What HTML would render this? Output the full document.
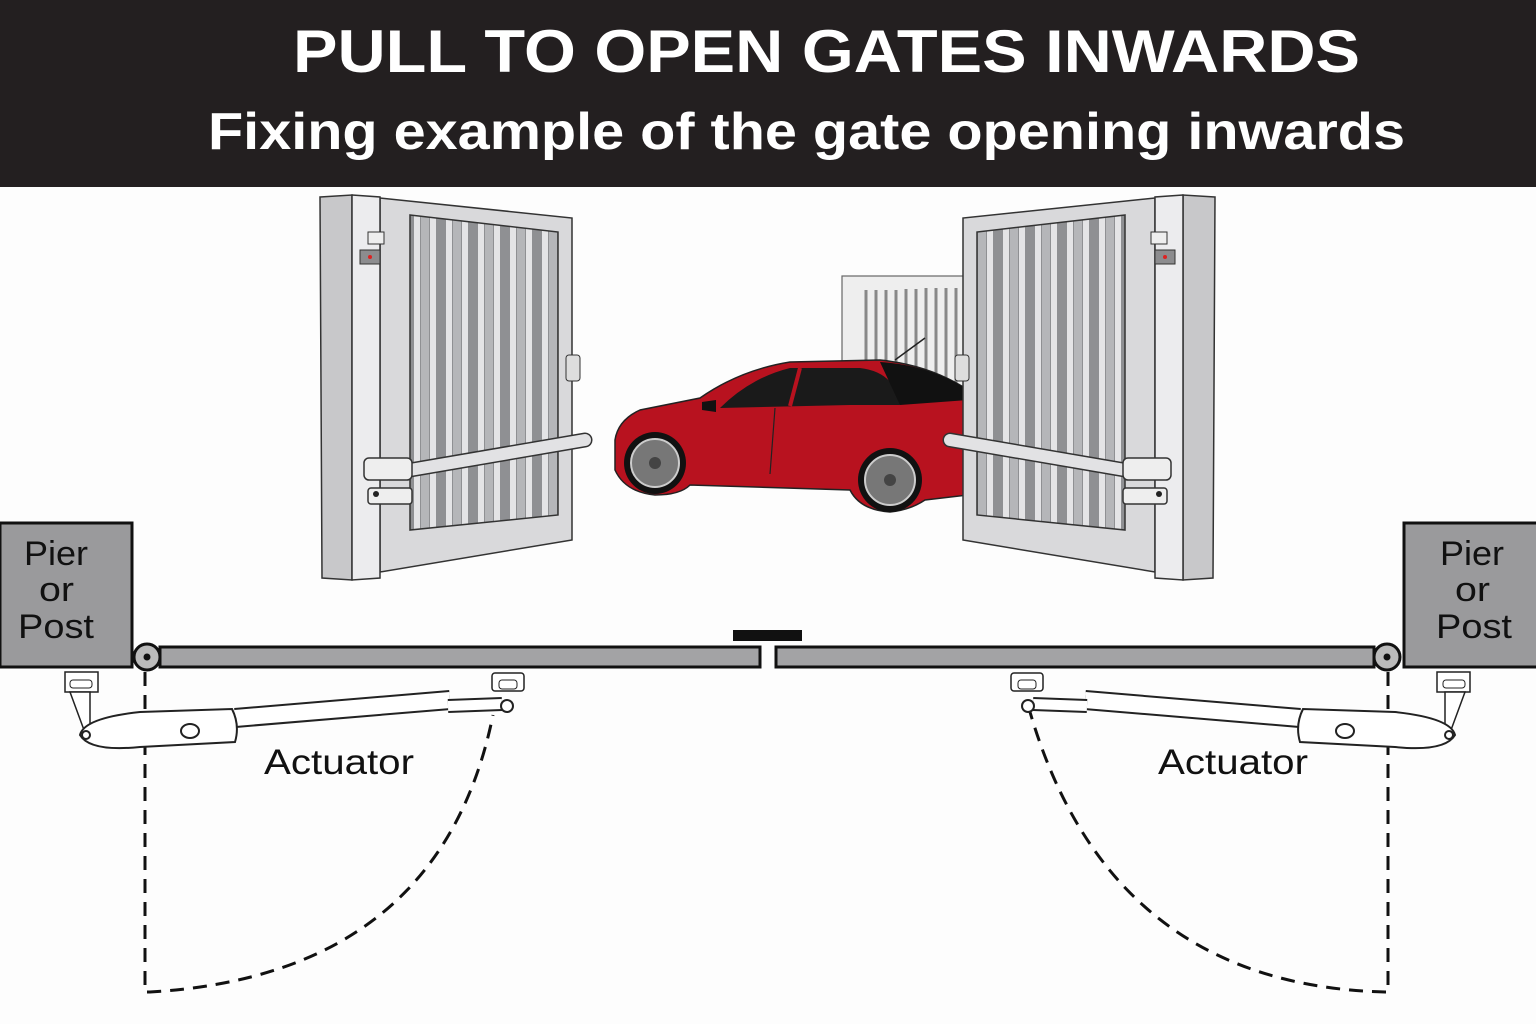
<!DOCTYPE html>
<html><head><meta charset="utf-8"><style>
html,body{margin:0;padding:0;background:#fff;}
svg{display:block;}
</style></head><body>
<svg width="1536" height="1024" viewBox="0 0 1536 1024" xmlns="http://www.w3.org/2000/svg">
<rect width="1536" height="1024" fill="#fdfdfd"/>
<rect width="1536" height="187" fill="#231f20"/>
<text x="293" y="72" textLength="1067" lengthAdjust="spacingAndGlyphs" font-family="Liberation Sans, sans-serif" font-weight="bold" font-size="60" fill="#fff">PULL TO OPEN GATES INWARDS</text>
<text x="208" y="149" textLength="1197" lengthAdjust="spacingAndGlyphs" font-family="Liberation Sans, sans-serif" font-weight="bold" font-size="52" fill="#fff">Fixing example of the gate opening inwards</text>

<defs>
<clipPath id="cl"><polygon points="410,215 558,232 558,515 410,530"/></clipPath>
<g id="gate">
  <polygon points="380,198 572,218 572,540 380,572" fill="#d9d9db" stroke="#333" stroke-width="1.5"/>
  <g clip-path="url(#cl)">
    <rect x="405" y="200" width="160" height="340" fill="#8f9093"/>
    <rect x="414" y="200" width="6" height="340" fill="#e4e4e6"/>
    <rect x="430" y="200" width="6" height="340" fill="#e4e4e6"/>
    <rect x="446" y="200" width="6" height="340" fill="#e4e4e6"/>
    <rect x="462" y="200" width="6" height="340" fill="#e4e4e6"/>
    <rect x="478" y="200" width="6" height="340" fill="#e4e4e6"/>
    <rect x="494" y="200" width="6" height="340" fill="#e4e4e6"/>
    <rect x="510" y="200" width="6" height="340" fill="#e4e4e6"/>
    <rect x="526" y="200" width="6" height="340" fill="#e4e4e6"/>
    <rect x="542" y="200" width="6" height="340" fill="#e4e4e6"/>
    <rect x="421" y="200" width="8" height="340" fill="#b5b6b9"/>
    <rect x="453" y="200" width="8" height="340" fill="#b5b6b9"/>
    <rect x="485" y="200" width="8" height="340" fill="#b5b6b9"/>
    <rect x="517" y="200" width="8" height="340" fill="#b5b6b9"/>
    <rect x="549" y="200" width="8" height="340" fill="#b5b6b9"/>
  </g>
  <polygon points="410,215 558,232 558,515 410,530" fill="none" stroke="#333" stroke-width="1.5"/>
  <polygon points="320,197 352,195 352,580 322,578" fill="#c8c8ca" stroke="#333" stroke-width="1.5"/>
  <polygon points="352,195 380,197 380,578 352,580" fill="#ececee" stroke="#333" stroke-width="1.5"/>
  <rect x="360" y="250" width="20" height="14" fill="#8c8c8e" stroke="#333"/>
  <circle cx="370" cy="257" r="2" fill="#d22"/>
  <rect x="368" y="232" width="16" height="12" fill="#eee" stroke="#333"/>
  <rect x="566" y="355" width="14" height="26" rx="3" fill="#ddd" stroke="#333"/>
  <line x1="410" y1="470" x2="585" y2="440" stroke="#333" stroke-width="15" stroke-linecap="round"/>
  <line x1="410" y1="470" x2="585" y2="440" stroke="#e2e2e4" stroke-width="12" stroke-linecap="round"/>
  <rect x="364" y="458" width="48" height="22" rx="5" fill="#eee" stroke="#333" stroke-width="1.5"/>
  <rect x="368" y="488" width="44" height="16" rx="3" fill="#eee" stroke="#333" stroke-width="1.5"/>
  <circle cx="376" cy="494" r="3" fill="#222"/>
</g>
<g id="act">
  <polygon points="65,672 98,672 98,692 65,692" fill="#fff" stroke="#222" stroke-width="1.5"/>
  <rect x="70" y="680" width="22" height="8" rx="3" fill="none" stroke="#222"/>
  <polygon points="70,692 90,692 90,730 84,730" fill="#fff" stroke="#222" stroke-width="1.5"/>
  <line x1="235" y1="718" x2="450" y2="700" stroke="#222" stroke-width="20"/>
  <line x1="235" y1="718" x2="450" y2="700" stroke="#fff" stroke-width="16"/>
  <line x1="448" y1="706" x2="502" y2="704" stroke="#222" stroke-width="14"/>
  <line x1="448" y1="706" x2="502" y2="704" stroke="#fff" stroke-width="10"/>
  <circle cx="507" cy="706" r="6" fill="#fff" stroke="#222" stroke-width="2"/>
  <path d="M80,735 Q84,718 140,712 L232,709 Q240,725 235,742 L140,747 Q90,752 80,735 Z" fill="#fff" stroke="#222" stroke-width="2"/>
  <circle cx="86" cy="735" r="4" fill="#fff" stroke="#222" stroke-width="2"/>
  <ellipse cx="190" cy="731" rx="9" ry="7" fill="#fff" stroke="#222" stroke-width="2"/>
  <rect x="492" y="673" width="32" height="18" rx="3" fill="#fff" stroke="#222" stroke-width="1.5"/>
  <rect x="499" y="680" width="18" height="9" rx="3" fill="none" stroke="#222"/>
</g>
</defs>

<!-- back gate -->
<rect x="842" y="276" width="126" height="110" fill="#eee" stroke="#666" stroke-width="1.2"/>
<g stroke="#888" stroke-width="3">
<line x1="866" y1="290" x2="866" y2="386"/><line x1="876" y1="290" x2="876" y2="386"/><line x1="886" y1="290" x2="886" y2="386"/><line x1="896" y1="290" x2="896" y2="386"/><line x1="906" y1="289" x2="906" y2="386"/><line x1="916" y1="289" x2="916" y2="386"/><line x1="926" y1="288" x2="926" y2="386"/><line x1="936" y1="288" x2="936" y2="386"/><line x1="946" y1="288" x2="946" y2="386"/><line x1="956" y1="288" x2="956" y2="386"/>
</g>

<!-- car -->
<path d="M615,440 Q618,420 640,410 L700,398 Q740,370 790,362 L880,360 Q930,365 968,390 L968,495 L925,500 Q910,510 890,512 Q860,510 850,490 L690,485 Q680,495 655,495 Q625,492 615,470 Z" fill="#b8121f" stroke="#222" stroke-width="1.5"/>
<path d="M720,408 Q750,378 790,368 L860,368 Q895,372 900,405 L850,405 Z" fill="#1a1a1a"/>
<path d="M880,362 Q930,365 968,390 L968,400 L900,405 Z" fill="#111"/>
<line x1="800" y1="368" x2="790" y2="406" stroke="#b8121f" stroke-width="4"/>
<line x1="895" y1="360" x2="925" y2="338" stroke="#222" stroke-width="1.5"/>
<path d="M702,402 L716,400 L716,412 L702,410 Z" fill="#111"/>
<line x1="775" y1="408" x2="770" y2="474" stroke="#222" stroke-width="1.2"/>
<circle cx="655" cy="463" r="31" fill="#111"/><circle cx="655" cy="463" r="24" fill="#777" stroke="#ccc" stroke-width="2"/><circle cx="655" cy="463" r="6" fill="#444"/>
<circle cx="890" cy="480" r="32" fill="#111"/><circle cx="890" cy="480" r="25" fill="#777" stroke="#ccc" stroke-width="2"/><circle cx="890" cy="480" r="6" fill="#444"/>

<use href="#gate"/>
<use href="#gate" transform="translate(1535,0) scale(-1,1)"/>

<!-- bottom diagram -->
<rect x="0" y="523" width="132" height="144" fill="#9a9a9c" stroke="#111" stroke-width="3"/>
<rect x="1404" y="523" width="134" height="144" fill="#9a9a9c" stroke="#111" stroke-width="3"/>
<g font-family="Liberation Sans, sans-serif" font-size="34" fill="#111" lengthAdjust="spacingAndGlyphs">
<text x="24" y="565" textLength="64" lengthAdjust="spacingAndGlyphs">Pier</text><text x="39" y="601" textLength="35" lengthAdjust="spacingAndGlyphs">or</text><text x="18" y="638" textLength="76" lengthAdjust="spacingAndGlyphs">Post</text>
<text x="1440" y="565" textLength="64" lengthAdjust="spacingAndGlyphs">Pier</text><text x="1455" y="601" textLength="35" lengthAdjust="spacingAndGlyphs">or</text><text x="1436" y="638" textLength="76" lengthAdjust="spacingAndGlyphs">Post</text>
</g>
<rect x="160" y="647" width="600" height="20" fill="#a3a3a5" stroke="#111" stroke-width="3"/>
<rect x="776" y="647" width="598" height="20" fill="#a3a3a5" stroke="#111" stroke-width="3"/>
<rect x="733" y="630" width="69" height="11" fill="#111"/>
<circle cx="147" cy="657" r="13" fill="#bbb" stroke="#111" stroke-width="3"/><circle cx="147" cy="657" r="3.5" fill="#111"/>
<circle cx="1387" cy="657" r="13" fill="#bbb" stroke="#111" stroke-width="3"/><circle cx="1387" cy="657" r="3.5" fill="#111"/>

<g fill="none" stroke="#111" stroke-width="3" stroke-dasharray="14,9">
<path d="M145,672 L145,992 L150,992 Q440,975 493,715"/>
<path d="M1388,672 L1388,992 L1385,992 Q1110,985 1030,712"/>
</g>

<use href="#act"/>
<use href="#act" transform="translate(1535,0) scale(-1,1)"/>

<g font-family="Liberation Sans, sans-serif" font-size="35" fill="#111">
<text x="264" y="774" textLength="150" lengthAdjust="spacingAndGlyphs">Actuator</text>
<text x="1158" y="774" textLength="150" lengthAdjust="spacingAndGlyphs">Actuator</text>
</g>
</svg>
</body></html>
